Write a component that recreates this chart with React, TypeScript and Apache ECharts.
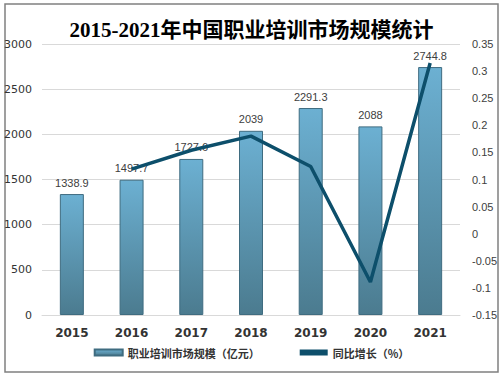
import React, { useEffect, useRef } from "react";
import * as echarts from "echarts";

const years = ["2015", "2016", "2017", "2018", "2019", "2020", "2021"];
const marketSize = [1338.9, 1497.7, 1727.6, 2039, 2291.3, 2088, 2744.8];
const yoyGrowth: (number | null)[] = [null, 0.119, 0.154, 0.18, 0.124, -0.089, 0.315];
const titleText = "2015-2021年中国职业培训市场规模统计";
const barName = "职业培训市场规模（亿元）";
const lineName = "同比增长（%）";

export default function App() {
  const ref = useRef<HTMLDivElement>(null);
  useEffect(() => {
    if (!ref.current) return;
    const chart = echarts.init(ref.current, null, { renderer: "svg" });
    chart.setOption({
      animation: false,
      backgroundColor: "#ffffff",
      graphic: [
        {
          type: "rect",
          shape: { x: 5, y: 4, width: 493, height: 368 },
          style: { fill: "none", stroke: "#808080", lineWidth: 1.5 },
          silent: true,
        },
      ],
      title: {
        text: titleText,
        left: "center",
        top: 14,
        textStyle: {
          fontFamily: "'Liberation Serif', 'Noto Sans CJK SC', serif",
          fontSize: 21,
          fontWeight: "bold",
          color: "#000000",
        },
      },
      legend: {
        bottom: 14,
        left: "center",
        itemGap: 40,
        itemWidth: 28,
        itemHeight: 6,
        textStyle: {
          fontFamily: "'Noto Sans CJK SC', sans-serif",
          fontSize: 11,
          fontWeight: "bold",
          color: "#333333",
        },
        data: [
          { name: barName, icon: "rect" },
          { name: lineName, icon: "rect", itemStyle: { color: "#0d4f6b" } },
        ],
      },
      grid: { left: 42, right: 43, top: 44, bottom: 62 },
      xAxis: {
        type: "category",
        data: years,
        axisLine: { show: true, lineStyle: { color: "#d9d9d9" } },
        axisTick: { show: false },
        axisLabel: {
          color: "#333333",
          fontSize: 12,
          fontWeight: "bold",
          fontFamily: "'DejaVu Sans', sans-serif",
          margin: 12,
        },
      },
      yAxis: [
        {
          type: "value",
          min: 0,
          max: 3000,
          interval: 500,
          axisLine: { show: false },
          axisTick: { show: false },
          splitLine: { lineStyle: { color: "#d9d9d9" } },
          axisLabel: {
            color: "#333333",
            fontSize: 11,
            fontFamily: "'DejaVu Sans', sans-serif",
            margin: 10,
            formatter: (v: number) => String(v),
          },
        },
        {
          type: "value",
          min: -0.15,
          max: 0.35,
          interval: 0.05,
          axisLine: { show: false },
          axisTick: { show: false },
          splitLine: { show: false },
          axisLabel: {
            color: "#404040",
            fontSize: 11,
            fontFamily: "'Liberation Sans', sans-serif",
            margin: 12,
            formatter: (v: number) => String(Math.round(v * 100) / 100),
          },
        },
      ],
      series: [
        {
          name: barName,
          type: "bar",
          data: marketSize,
          barWidth: 24,
          itemStyle: {
            color: new echarts.graphic.LinearGradient(0, 0, 0, 1, [
              { offset: 0, color: "#6cb0d2" },
              { offset: 1, color: "#4b7b8f" },
            ]),
            borderColor: "#3f6c80",
            borderWidth: 1,
          },
          label: {
            show: true,
            position: "top",
            distance: 6,
            color: "#404040",
            fontSize: 11,
            fontFamily: "'Liberation Sans', sans-serif",
          },
        },
        {
          name: lineName,
          type: "line",
          yAxisIndex: 1,
          data: yoyGrowth,
          showSymbol: false,
          symbol: "none",
          lineStyle: { color: "#0d4f6b", width: 3.5 },
          itemStyle: { color: "#0d4f6b" },
          z: 5,
        },
      ],
    });
    return () => chart.dispose();
  }, []);
  return <div ref={ref} style={{ width: 503, height: 377, position: "absolute", left: 0, top: 0 }} />;
}
